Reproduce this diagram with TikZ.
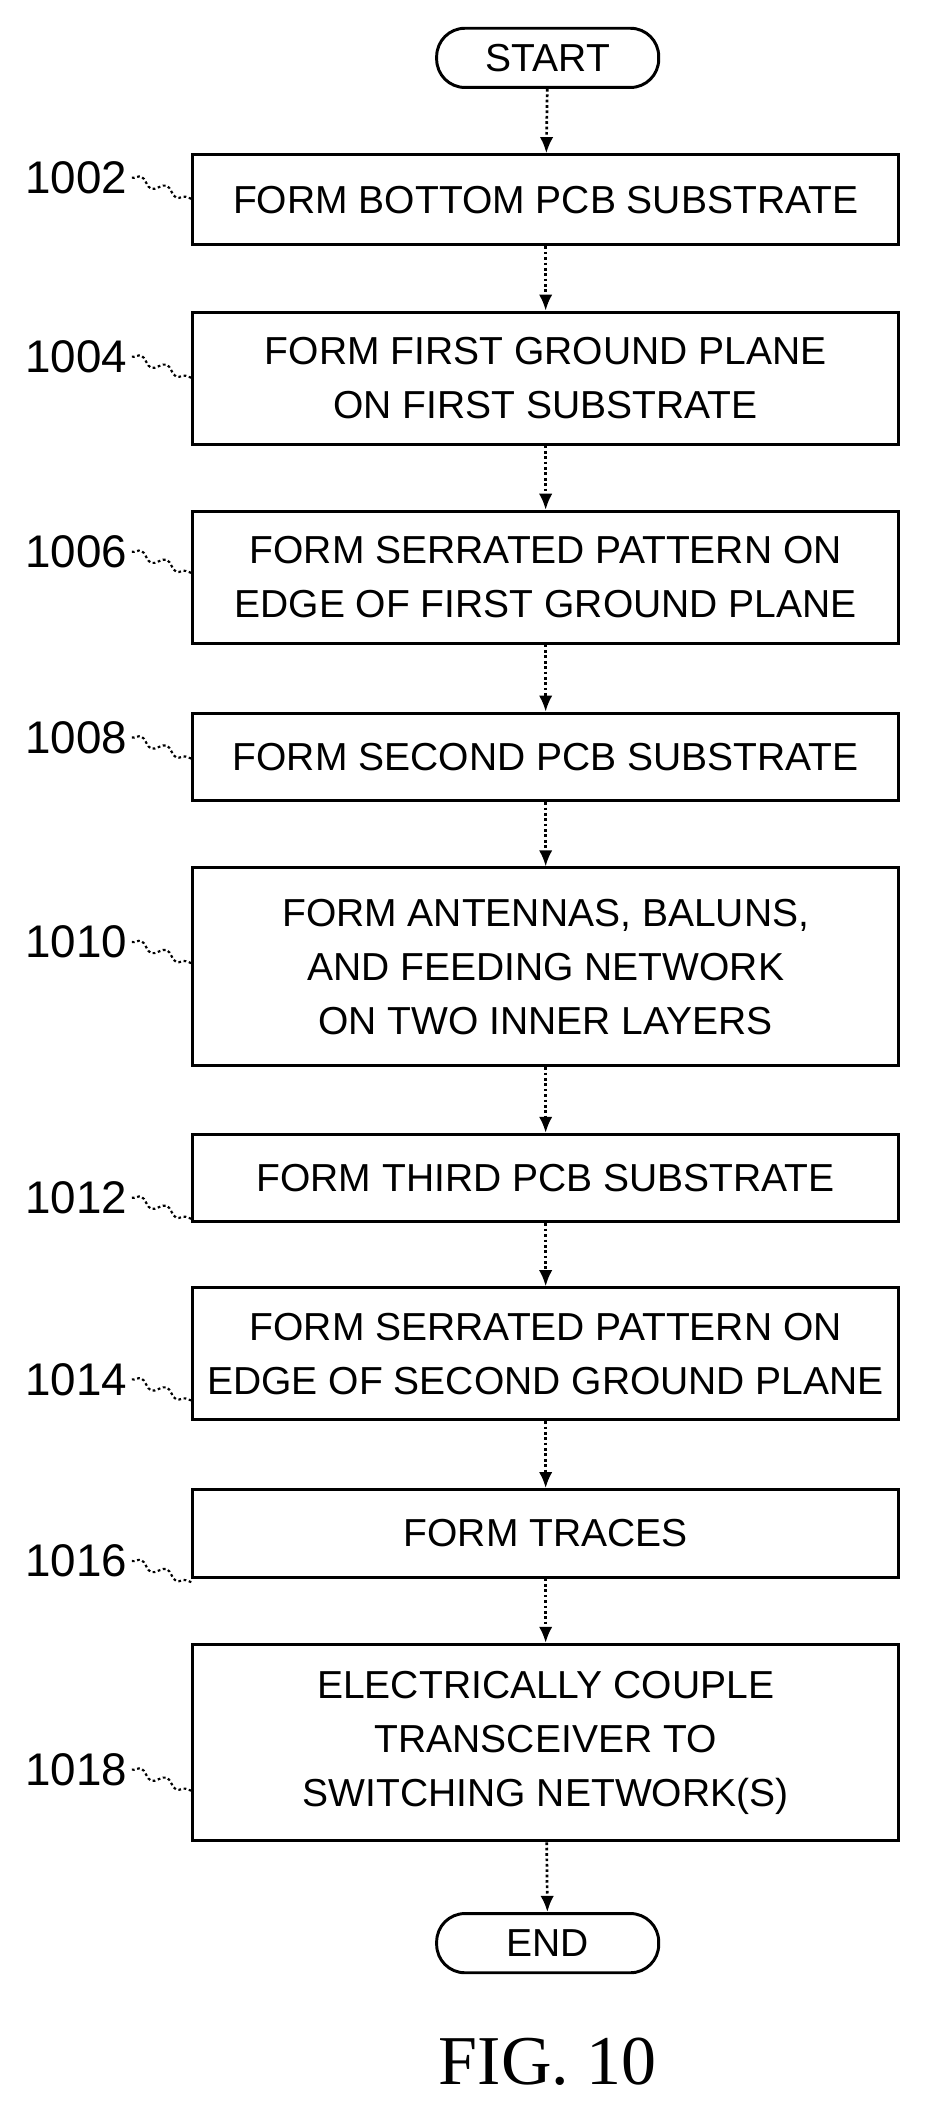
\documentclass[tikz,border=0pt]{standalone}
\usepackage{fontspec}
\setmainfont{Liberation Sans}
\newfontfamily\figfont{Liberation Serif}
\usetikzlibrary{arrows.meta,decorations.pathmorphing}
\tikzset{
  stepbox/.style={draw,line width=2.2pt,minimum width=525pt,align=center,
    font=\fontsize{29}{40}\selectfont,inner sep=0pt},
  term/.style={draw,line width=2.2pt,rounded corners=21pt,minimum width=165pt,
    minimum height=44pt,font=\fontsize{29}{34}\selectfont},
  num/.style={font=\fontsize{34}{40}\selectfont},
  flow/.style={line width=2pt,dotted,-{Latex[length=12pt,width=10pt]}},
  lead/.style={line width=1.6pt,dash pattern=on 2pt off 2pt,
    decorate,decoration={snake,amplitude=3pt,segment length=20pt}}
}
\begin{document}
\begin{tikzpicture}[x=1pt,y=-1pt]
  \useasboundingbox (0,0) rectangle (688,1568);
  \node (start) [term] at (407,43) {START};
  \node (s1002) [stepbox,minimum height=67pt] at (405.5,148.5) {FORM BOTTOM PCB SUBSTRATE};
  \node (s1004) [stepbox,minimum height=98pt] at (405.5,281) {FORM FIRST GROUND PLANE\\ON FIRST SUBSTRATE};
  \node (s1006) [stepbox,minimum height=98pt] at (405.5,429) {FORM SERRATED PATTERN ON\\EDGE OF FIRST GROUND PLANE};
  \node (s1008) [stepbox,minimum height=65pt] at (405.5,562.5) {FORM SECOND PCB SUBSTRATE};
  \node (s1010) [stepbox,minimum height=147pt] at (405.5,718.5) {FORM ANTENNAS, BALUNS,\\AND FEEDING NETWORK\\ON TWO INNER LAYERS};
  \node (s1012) [stepbox,minimum height=65pt] at (405.5,875.5) {FORM THIRD PCB SUBSTRATE};
  \node (s1014) [stepbox,minimum height=98pt] at (405.5,1006) {FORM SERRATED PATTERN ON\\EDGE OF SECOND GROUND PLANE};
  \node (s1016) [stepbox,minimum height=65pt] at (405.5,1139.5) {FORM TRACES};
  \node (s1018) [stepbox,minimum height=146pt] at (405.5,1295) {ELECTRICALLY COUPLE\\TRANSCEIVER TO\\SWITCHING NETWORK(S)};
  \node (end) [term] at (407,1444) {END};
  \node (fig) [font=\figfont\fontsize{52}{60}\selectfont] at (407,1532) {FIG. 10};

  \draw [flow] (start) -- (s1002);
  \draw [flow] (s1002) -- (s1004);
  \draw [flow] (s1004) -- (s1006);
  \draw [flow] (s1006) -- (s1008);
  \draw [flow] (s1008) -- (s1010);
  \draw [flow] (s1010) -- (s1012);
  \draw [flow] (s1012) -- (s1014);
  \draw [flow] (s1014) -- (s1016);
  \draw [flow] (s1016) -- (s1018);
  \draw [flow] (s1018) -- (end);

  \foreach \n/\y in {1002/132,1004/265,1006/410,1008/548,1010/700,1012/890,1014/1025,1016/1160,1018/1315}{
    \node (n\n) [num,anchor=east] at (98,\y) {\n};
    \coordinate (t\n) at (143,\y+16);
    \draw [lead] (n\n.east) -- (t\n);
  }
\end{tikzpicture}
\end{document}
